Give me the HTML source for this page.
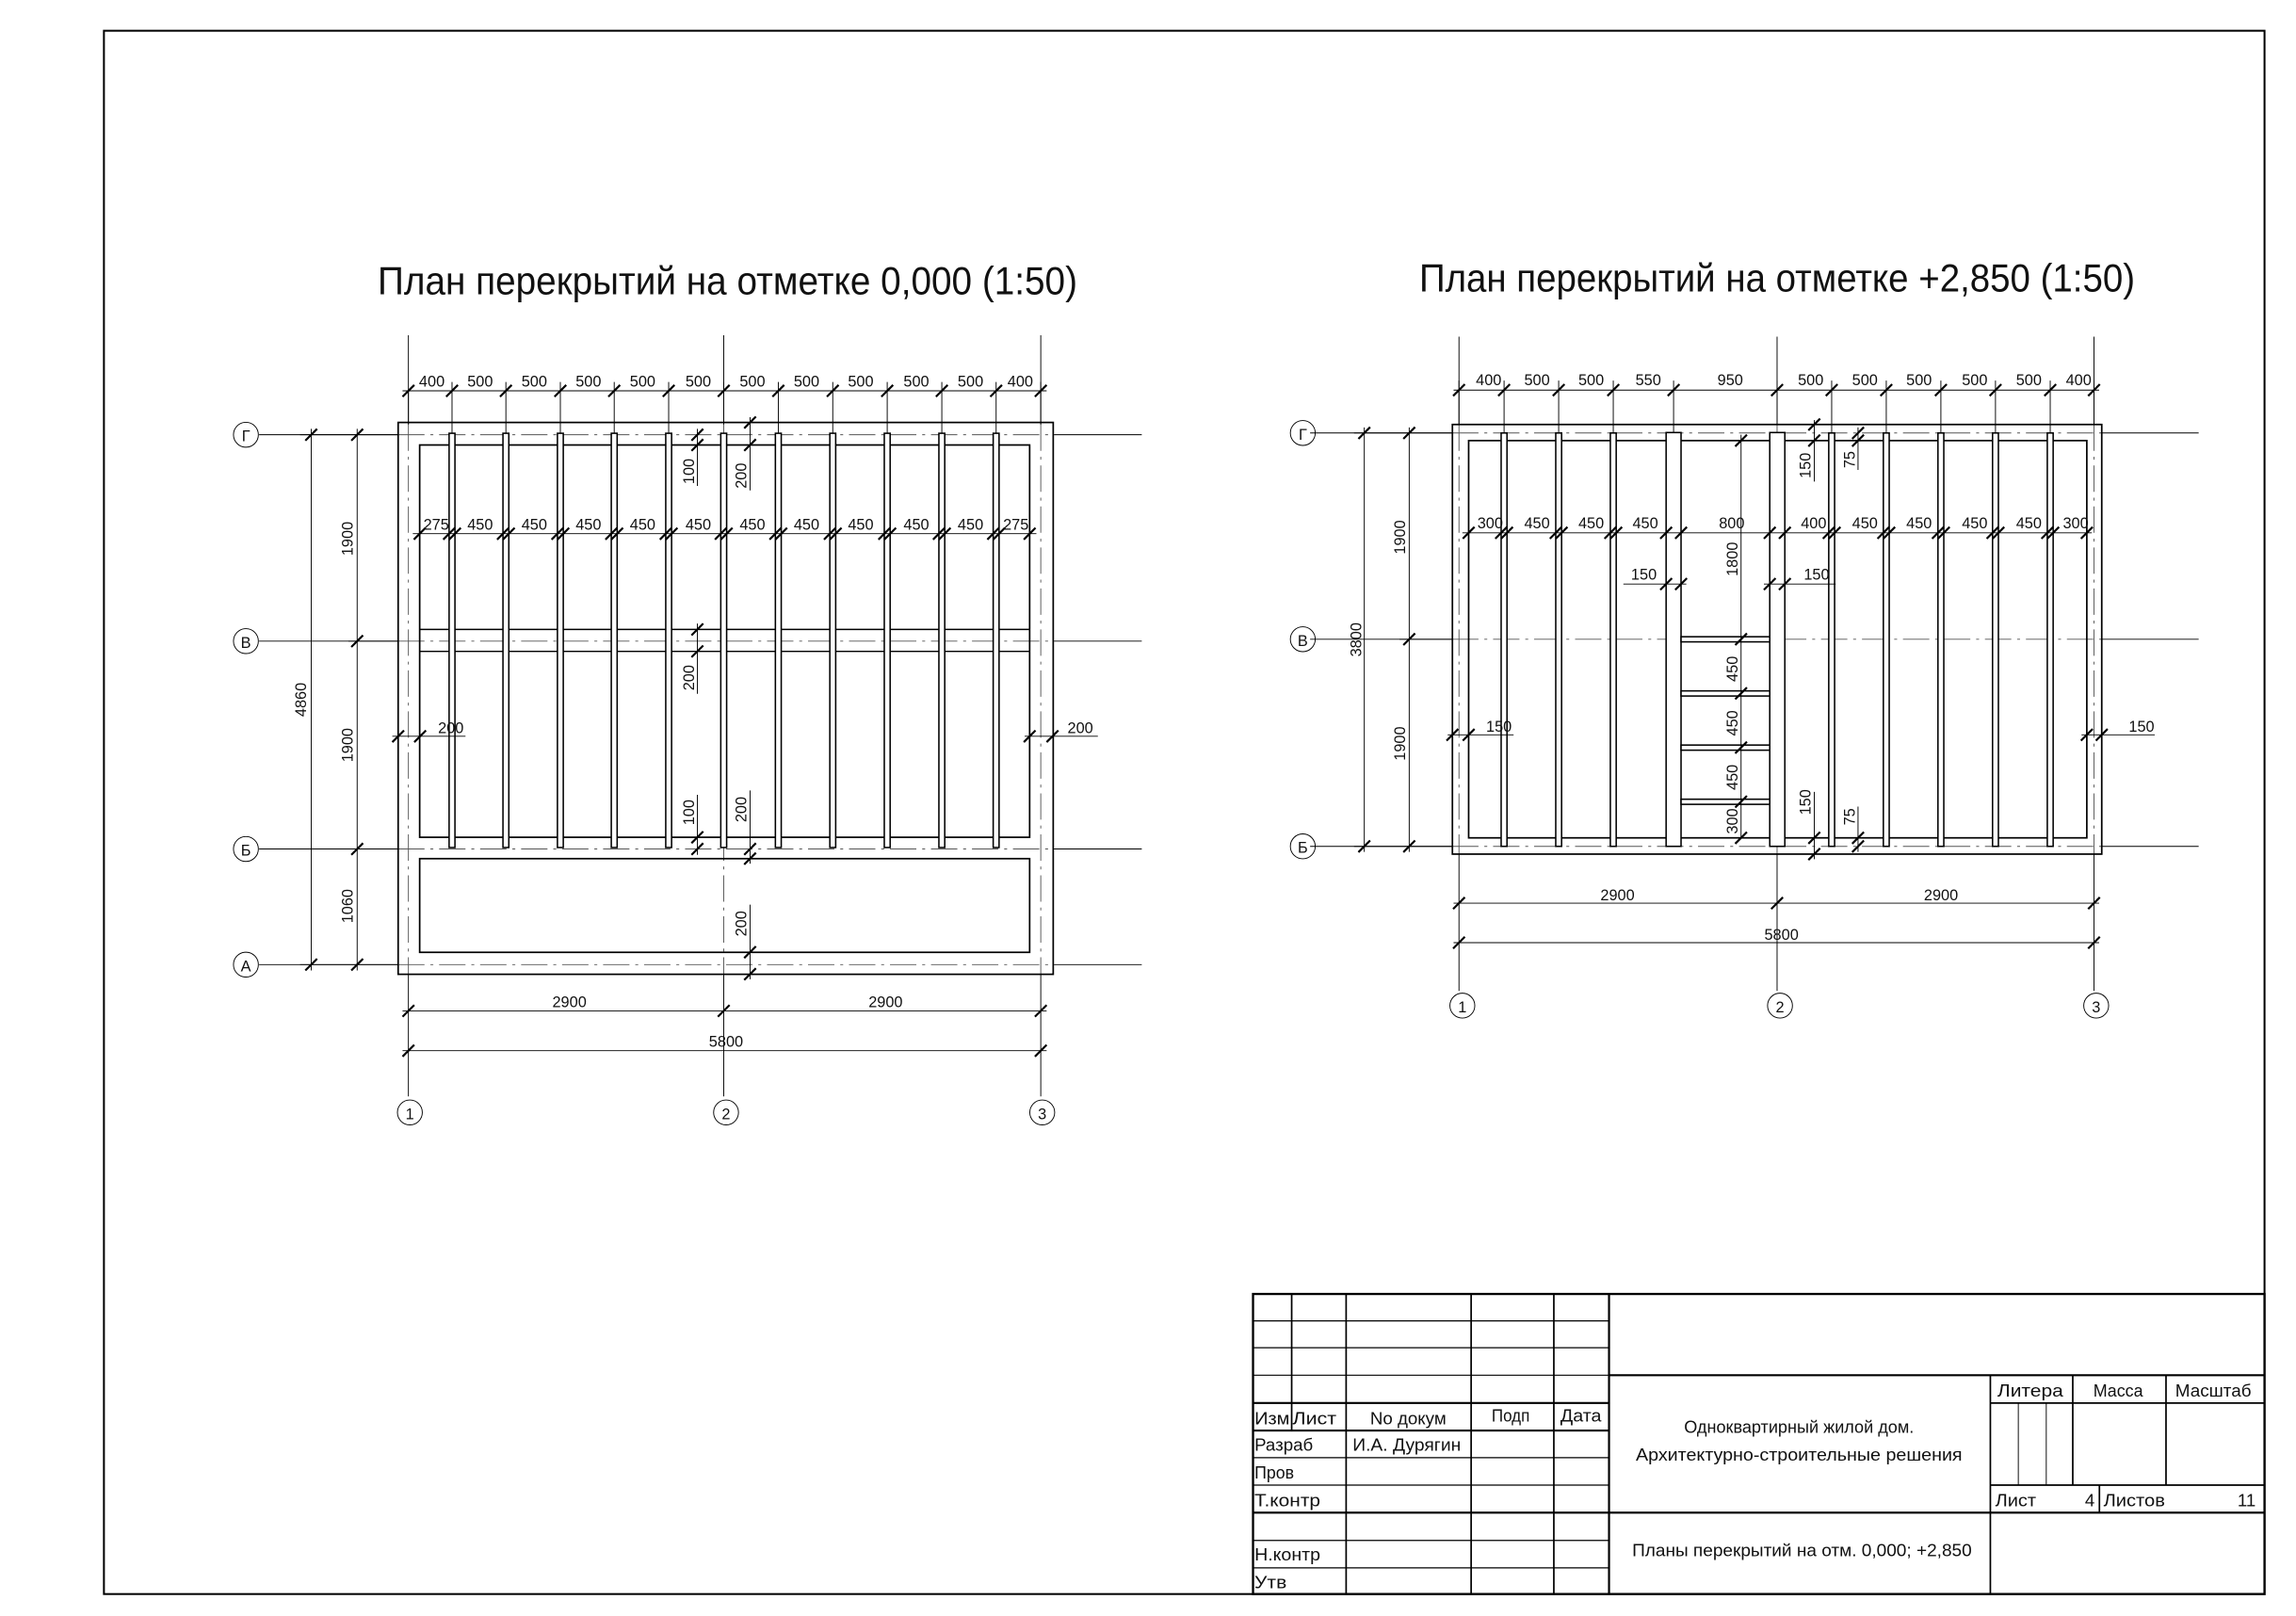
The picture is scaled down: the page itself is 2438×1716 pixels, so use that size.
<!DOCTYPE html>
<html><head><meta charset="utf-8"><style>
html,body{margin:0;padding:0;background:#fff}
svg{display:block}
text{font-family:"Liberation Sans Narrow","Liberation Sans",sans-serif;fill:#111}
</style></head><body>
<svg width="2438" height="1716" viewBox="0 0 1568.5 1104" preserveAspectRatio="none" xmlns="http://www.w3.org/2000/svg">
<defs><path id="t" d="M-4,4 L4,-4" stroke="#000" stroke-width="1.4"/></defs>
<rect x="71" y="21" width="1476" height="1068" fill="none" stroke="#000" stroke-width="1.3"/>

<text x="497" y="201" font-size="27" text-anchor="middle" textLength="478" lengthAdjust="spacingAndGlyphs">План перекрытий на отметке 0,000 (1:50)</text>
<text x="1214" y="199" font-size="27" text-anchor="middle" textLength="489" lengthAdjust="spacingAndGlyphs">План перекрытий на отметке +2,850 (1:50)</text>

<!-- ========== PLAN 1 ========== -->
<g fill="none" stroke="#000" stroke-width="0.6">
<path d="M177,297H272M720,297H780M177,438H272M720,438H780M177,580H272M720,580H780M177,659H272M720,659H780"/>
<path d="M279,229V290M494.4,229V290M711,229V290M279,666V749M494.4,666V749M711,666V749"/>
<path stroke="#555" stroke-dasharray="18,4,2,4" d="M272,297H720M272,438H720M272,580H720M272,659H720M279,290V666M494.4,290V666M711,290V666"/>
<circle cx="168" cy="297" r="8.5"/><circle cx="168" cy="438" r="8.5"/><circle cx="168" cy="580" r="8.5"/><circle cx="168" cy="659" r="8.5"/>
<circle cx="280" cy="760" r="8.5"/><circle cx="496" cy="760" r="8.5"/><circle cx="712" cy="760" r="8.5"/>
<rect x="272" y="288.6" width="447.5" height="377" stroke-width="1.1"/>
<rect x="286.7" y="304" width="416.7" height="268" stroke-width="1.1"/>
<rect x="286.7" y="586.6" width="416.7" height="64" stroke-width="1.1"/>
<path d="M286.7,430H703.4M286.7,445H703.4" stroke-width="0.9"/>
</g>
<g fill="#fff" stroke="#000" stroke-width="1">
<rect x="306.8" y="296" width="4" height="283"/><rect x="343.6" y="296" width="4" height="283"/><rect x="380.8" y="296" width="4" height="283"/><rect x="417.6" y="296" width="4" height="283"/><rect x="454.8" y="296" width="4" height="283"/><rect x="492.4" y="296" width="4" height="283"/><rect x="529.7" y="296" width="4" height="283"/><rect x="566.9" y="296" width="4" height="283"/><rect x="604.1" y="296" width="4" height="283"/><rect x="641.4" y="296" width="4" height="283"/><rect x="678.5" y="296" width="4" height="283"/>
</g>
<g fill="none" stroke="#000" stroke-width="0.6">
<path d="M275,267H715M279,267V290M308.8,261V296M345.6,261V296M382.8,261V296M419.6,261V296M456.8,261V296M494.4,261V290M531.7,261V296M568.9,261V296M606.1,261V296M643.4,261V296M680.5,261V296M711,261V290"/>
<path d="M282,364.6H708"/>
<path d="M212.6,293V663M205,297H272M205,659H272M244,293V663M238,438H272M238,580H272"/>
<path d="M275,690.6H715M275,717.8H715"/>
<path d="M268,503H318M700,503H750"/>
<path d="M476.4,293V332M512.4,285V335M476.4,426V474M476.4,543V584M512.4,540V590M512.4,618V669"/>
</g>
<g>
<use href="#t" x="279" y="267"/><use href="#t" x="308.8" y="267"/><use href="#t" x="345.6" y="267"/><use href="#t" x="382.8" y="267"/><use href="#t" x="419.6" y="267"/><use href="#t" x="456.8" y="267"/><use href="#t" x="494.4" y="267"/><use href="#t" x="531.7" y="267"/><use href="#t" x="568.9" y="267"/><use href="#t" x="606.1" y="267"/><use href="#t" x="643.4" y="267"/><use href="#t" x="680.5" y="267"/><use href="#t" x="711" y="267"/>
<use href="#t" x="286.7" y="364.6"/><use href="#t" x="306.8" y="364.6"/><use href="#t" x="310.8" y="364.6"/><use href="#t" x="343.6" y="364.6"/><use href="#t" x="347.6" y="364.6"/><use href="#t" x="380.8" y="364.6"/><use href="#t" x="384.8" y="364.6"/><use href="#t" x="417.6" y="364.6"/><use href="#t" x="421.6" y="364.6"/><use href="#t" x="454.8" y="364.6"/><use href="#t" x="458.8" y="364.6"/><use href="#t" x="492.4" y="364.6"/><use href="#t" x="496.4" y="364.6"/><use href="#t" x="529.7" y="364.6"/><use href="#t" x="533.7" y="364.6"/><use href="#t" x="566.9" y="364.6"/><use href="#t" x="570.9" y="364.6"/><use href="#t" x="604.1" y="364.6"/><use href="#t" x="608.1" y="364.6"/><use href="#t" x="641.4" y="364.6"/><use href="#t" x="645.4" y="364.6"/><use href="#t" x="678.5" y="364.6"/><use href="#t" x="682.5" y="364.6"/><use href="#t" x="703.4" y="364.6"/>
<use href="#t" x="212.6" y="297"/><use href="#t" x="212.6" y="659"/><use href="#t" x="244" y="297"/><use href="#t" x="244" y="438"/><use href="#t" x="244" y="580"/><use href="#t" x="244" y="659"/>
<use href="#t" x="279" y="690.6"/><use href="#t" x="494.4" y="690.6"/><use href="#t" x="711" y="690.6"/><use href="#t" x="279" y="717.8"/><use href="#t" x="711" y="717.8"/>
<use href="#t" x="272" y="503"/><use href="#t" x="287" y="503"/><use href="#t" x="703.4" y="503"/><use href="#t" x="719" y="503"/>
<use href="#t" x="476.4" y="297"/><use href="#t" x="476.4" y="304"/><use href="#t" x="512.4" y="288.6"/><use href="#t" x="512.4" y="304"/>
<use href="#t" x="476.4" y="430"/><use href="#t" x="476.4" y="445"/>
<use href="#t" x="476.4" y="572"/><use href="#t" x="476.4" y="580"/><use href="#t" x="512.4" y="580"/><use href="#t" x="512.4" y="586.6"/>
<use href="#t" x="512.4" y="650.5"/><use href="#t" x="512.4" y="665.5"/>
</g>
<g font-size="10.5" text-anchor="middle">
<text x="168" y="301.5">Г</text><text x="168" y="442.5">В</text><text x="168" y="584.5">Б</text><text x="168" y="663.5">А</text>
<text x="280" y="764.5">1</text><text x="496" y="764.5">2</text><text x="712" y="764.5">3</text>
<text x="295" y="264">400</text><text x="328" y="264">500</text><text x="365" y="264">500</text><text x="402" y="264">500</text><text x="439" y="264">500</text><text x="477" y="264">500</text><text x="514" y="264">500</text><text x="551" y="264">500</text><text x="588" y="264">500</text><text x="626" y="264">500</text><text x="663" y="264">500</text><text x="697" y="264">400</text>
<text x="298" y="362">275</text><text x="328" y="362">450</text><text x="365" y="362">450</text><text x="402" y="362">450</text><text x="439" y="362">450</text><text x="477" y="362">450</text><text x="514" y="362">450</text><text x="551" y="362">450</text><text x="588" y="362">450</text><text x="626" y="362">450</text><text x="663" y="362">450</text><text x="694" y="362">275</text>
<text x="389" y="688">2900</text><text x="605" y="688">2900</text><text x="496" y="715">5800</text>
<text x="308" y="501">200</text><text x="738" y="501">200</text>
<text transform="translate(209,478) rotate(-90)">4860</text>
<text transform="translate(241,368) rotate(-90)">1900</text>
<text transform="translate(241,509) rotate(-90)">1900</text>
<text transform="translate(241,619) rotate(-90)">1060</text>
<text transform="translate(474,322) rotate(-90)">100</text>
<text transform="translate(510,325) rotate(-90)">200</text>
<text transform="translate(474,463) rotate(-90)">200</text>
<text transform="translate(474,555) rotate(-90)">100</text>
<text transform="translate(510,553) rotate(-90)">200</text>
<text transform="translate(510,631) rotate(-90)">200</text>
</g>

<!-- ========== PLAN 2 ========== -->
<g transform="translate(4,1)">
<g fill="none" stroke="#000" stroke-width="0.6">
<path d="M891,294.8H988M1432,294.8H1498M891,435.7H988M1432,435.7H1498M891,577.2H988M1432,577.2H1498"/>
<path d="M992.7,229V289M1210,229V289M1426.5,229V289M992.7,582.5V676M1210,582.5V676M1426.5,582.5V676"/>
<path stroke="#555" stroke-dasharray="18,4,2,4" d="M988,294.8H1432M988,435.7H1432M988,577.2H1432M992.7,289V582.5M1210,289V582.5M1426.5,289V582.5"/>
<circle cx="886" cy="294.8" r="8.5"/><circle cx="886" cy="435.7" r="8.5"/><circle cx="886" cy="577.2" r="8.5"/>
<circle cx="995" cy="686" r="8.5"/><circle cx="1212" cy="686" r="8.5"/><circle cx="1428" cy="686" r="8.5"/>
<rect x="988.2" y="289" width="443.6" height="293.5" stroke-width="1.1"/>
<rect x="999.3" y="300" width="422.3" height="271.4" stroke-width="1.1"/>
</g>
<g fill="#fff" stroke="#000" stroke-width="1">
<rect x="1021.5" y="294.8" width="4" height="282.4"/><rect x="1058.8" y="294.8" width="4" height="282.4"/><rect x="1096.1" y="294.8" width="4" height="282.4"/><rect x="1245.3" y="294.8" width="4" height="282.4"/><rect x="1282.6" y="294.8" width="4" height="282.4"/><rect x="1319.9" y="294.8" width="4" height="282.4"/><rect x="1357.2" y="294.8" width="4" height="282.4"/><rect x="1394.6" y="294.8" width="4" height="282.4"/>
<rect x="1134.2" y="294.5" width="10.2" height="282.7"/><rect x="1205" y="294.5" width="10.3" height="282.7"/>
<rect x="1144.4" y="434" width="60.6" height="3.5"/><rect x="1144.4" y="471" width="60.6" height="3.5"/><rect x="1144.4" y="508" width="60.6" height="3.5"/><rect x="1144.4" y="545" width="60.6" height="3.5"/>
</g>
<g fill="none" stroke="#000" stroke-width="0.6">
<path d="M989,265.5H1430M992.7,259V289M1023.5,259V294.8M1060.8,259V294.8M1098.1,259V294.8M1139.3,259V294.5M1210,259V289M1247.3,259V294.8M1284.6,259V294.8M1321.9,259V294.8M1359.2,259V294.8M1396.6,259V294.8M1426.5,259V289"/>
<path d="M995,363H1425"/>
<path d="M1105,398H1148M1201,398H1250"/>
<path d="M1185.4,296V572"/>
<path d="M1235.4,286V328M1265.3,291V320M1235.4,540V586M1265.3,550V581"/>
<path d="M928,291V581M921,294.8H988M921,577.2H988M958.7,291V581M952,435.7H988"/>
<path d="M985,501H1030M1418,501H1468"/>
<path d="M989,616H1430M989,643H1430"/>
</g>
<g>
<use href="#t" x="992.7" y="265.5"/><use href="#t" x="1023.5" y="265.5"/><use href="#t" x="1060.8" y="265.5"/><use href="#t" x="1098.1" y="265.5"/><use href="#t" x="1139.3" y="265.5"/><use href="#t" x="1210" y="265.5"/><use href="#t" x="1247.3" y="265.5"/><use href="#t" x="1284.6" y="265.5"/><use href="#t" x="1321.9" y="265.5"/><use href="#t" x="1359.2" y="265.5"/><use href="#t" x="1396.6" y="265.5"/><use href="#t" x="1426.5" y="265.5"/>
<use href="#t" x="999.3" y="363"/><use href="#t" x="1021.5" y="363"/><use href="#t" x="1025.5" y="363"/><use href="#t" x="1058.8" y="363"/><use href="#t" x="1062.8" y="363"/><use href="#t" x="1096.1" y="363"/><use href="#t" x="1100.1" y="363"/><use href="#t" x="1134.2" y="363"/><use href="#t" x="1144.4" y="363"/><use href="#t" x="1205" y="363"/><use href="#t" x="1215.3" y="363"/><use href="#t" x="1245.3" y="363"/><use href="#t" x="1249.3" y="363"/><use href="#t" x="1282.6" y="363"/><use href="#t" x="1286.6" y="363"/><use href="#t" x="1319.9" y="363"/><use href="#t" x="1323.9" y="363"/><use href="#t" x="1357.2" y="363"/><use href="#t" x="1361.2" y="363"/><use href="#t" x="1394.6" y="363"/><use href="#t" x="1398.6" y="363"/><use href="#t" x="1421.6" y="363"/>
<use href="#t" x="1134.2" y="398"/><use href="#t" x="1144.4" y="398"/><use href="#t" x="1205" y="398"/><use href="#t" x="1215.3" y="398"/>
<use href="#t" x="1185.4" y="300"/><use href="#t" x="1185.4" y="435.7"/><use href="#t" x="1185.4" y="472.7"/><use href="#t" x="1185.4" y="509.7"/><use href="#t" x="1185.4" y="546.7"/><use href="#t" x="1185.4" y="571.4"/>
<use href="#t" x="1235.4" y="289"/><use href="#t" x="1235.4" y="300"/><use href="#t" x="1265.3" y="294.8"/><use href="#t" x="1265.3" y="300"/>
<use href="#t" x="1235.4" y="571.4"/><use href="#t" x="1235.4" y="582.5"/><use href="#t" x="1265.3" y="571.4"/><use href="#t" x="1265.3" y="577.2"/>
<use href="#t" x="928" y="294.8"/><use href="#t" x="928" y="577.2"/><use href="#t" x="958.7" y="294.8"/><use href="#t" x="958.7" y="435.7"/><use href="#t" x="958.7" y="577.2"/>
<use href="#t" x="988.2" y="501"/><use href="#t" x="999.3" y="501"/><use href="#t" x="1421.6" y="501"/><use href="#t" x="1431.8" y="501"/>
<use href="#t" x="992.7" y="616"/><use href="#t" x="1210" y="616"/><use href="#t" x="1426.5" y="616"/><use href="#t" x="992.7" y="643"/><use href="#t" x="1426.5" y="643"/>
</g>
<g font-size="10.5" text-anchor="middle">
<text x="886" y="299.3">Г</text><text x="886" y="440.2">В</text><text x="886" y="581.7">Б</text>
<text x="995" y="690.5">1</text><text x="1212" y="690.5">2</text><text x="1428" y="690.5">3</text>
<text x="1013" y="262">400</text><text x="1046" y="262">500</text><text x="1083" y="262">500</text><text x="1122" y="262">550</text><text x="1178" y="262">950</text><text x="1233" y="262">500</text><text x="1270" y="262">500</text><text x="1307" y="262">500</text><text x="1345" y="262">500</text><text x="1382" y="262">500</text><text x="1416" y="262">400</text>
<text x="1014" y="360">300</text><text x="1046" y="360">450</text><text x="1083" y="360">450</text><text x="1120" y="360">450</text><text x="1179" y="360">800</text><text x="1235" y="360">400</text><text x="1270" y="360">450</text><text x="1307" y="360">450</text><text x="1345" y="360">450</text><text x="1382" y="360">450</text><text x="1414" y="360">300</text>
<text x="1119" y="395">150</text><text x="1237" y="395">150</text>
<text x="1020" y="499">150</text><text x="1459" y="499">150</text>
<text x="1101" y="614">2900</text><text x="1322" y="614">2900</text><text x="1213" y="641">5800</text>
<text transform="translate(1183,381) rotate(-90)">1800</text>
<text transform="translate(1183,456) rotate(-90)">450</text>
<text transform="translate(1183,493) rotate(-90)">450</text>
<text transform="translate(1183,530) rotate(-90)">450</text>
<text transform="translate(1183,560) rotate(-90)">300</text>
<text transform="translate(1233,317) rotate(-90)">150</text>
<text transform="translate(1263,313) rotate(-90)">75</text>
<text transform="translate(1233,547) rotate(-90)">150</text>
<text transform="translate(1263,557) rotate(-90)">75</text>
<text transform="translate(926,436) rotate(-90)">3800</text>
<text transform="translate(956,366) rotate(-90)">1900</text>
<text transform="translate(956,507) rotate(-90)">1900</text>
</g>
</g>

<!-- ========== TITLE BLOCK ========== -->
<g fill="none" stroke="#000" stroke-width="0.8">
<rect x="856" y="884" width="691" height="205" stroke-width="1.5"/>
<path d="M882.4,884V977.3M919.6,884V1089M1005,884V1089M1061.5,884V1089" stroke-width="1.1"/>
<path d="M1099.2,884V1089" stroke-width="1.4"/>
<path d="M856,902.4H1099M856,920.7H1099M856,939.5H1099M856,995.8H1099M856,1014.6H1099M856,1052.4H1099M856,1071.1H1099"/>
<path d="M856,958.5H1099M856,977.3H1099M856,1033.4H1099M1099,939.5H1547M1099,1033.4H1547" stroke-width="1.4"/>
<path d="M1359.7,939.5V1089M1416,939.5V1014.6M1479.7,939.5V1014.6M1434.2,1014.6V1033.4M1359.7,958.5H1547M1359.7,1014.6H1547" stroke-width="1.1"/>
<path d="M1378.8,958.5V1014.6M1397.9,958.5V1014.6" stroke-width="0.6"/>
</g>
<g font-size="12">
<text x="857" y="973" textLength="24" lengthAdjust="spacingAndGlyphs">Изм</text><text x="883" y="973" textLength="30" lengthAdjust="spacingAndGlyphs">Лист</text>
<text x="962" y="973" text-anchor="middle" textLength="52" lengthAdjust="spacingAndGlyphs">No докум</text>
<text x="1032" y="971" text-anchor="middle" textLength="26" lengthAdjust="spacingAndGlyphs">Подп</text><text x="1080" y="971" text-anchor="middle" textLength="28" lengthAdjust="spacingAndGlyphs">Дата</text>
<text x="857" y="991" textLength="40" lengthAdjust="spacingAndGlyphs">Разраб</text><text x="924" y="991" textLength="74" lengthAdjust="spacingAndGlyphs">И.А. Дурягин</text>
<text x="857" y="1010" textLength="27" lengthAdjust="spacingAndGlyphs">Пров</text><text x="857" y="1029" textLength="45" lengthAdjust="spacingAndGlyphs">Т.контр</text>
<text x="857" y="1066" textLength="45" lengthAdjust="spacingAndGlyphs">Н.контр</text><text x="857" y="1085" textLength="22" lengthAdjust="spacingAndGlyphs">Утв</text>
<text x="1229" y="979" text-anchor="middle" textLength="157" lengthAdjust="spacingAndGlyphs">Одноквартирный жилой дом.</text>
<text x="1229" y="998" text-anchor="middle" textLength="223" lengthAdjust="spacingAndGlyphs">Архитектурно-строительные решения</text>
<text x="1231" y="1063" text-anchor="middle" textLength="232" lengthAdjust="spacingAndGlyphs">Планы перекрытий на отм. 0,000; +2,850</text>
<text x="1387" y="954" text-anchor="middle" textLength="45" lengthAdjust="spacingAndGlyphs">Литера</text><text x="1447" y="954" text-anchor="middle" textLength="34" lengthAdjust="spacingAndGlyphs">Масса</text><text x="1512" y="954" text-anchor="middle" textLength="52" lengthAdjust="spacingAndGlyphs">Масштаб</text>
<text x="1363" y="1029" textLength="28" lengthAdjust="spacingAndGlyphs">Лист</text><text x="1431" y="1029" text-anchor="end">4</text>
<text x="1437" y="1029" textLength="42" lengthAdjust="spacingAndGlyphs">Листов</text><text x="1541" y="1029" text-anchor="end">11</text>
</g>
</svg>
</body></html>
